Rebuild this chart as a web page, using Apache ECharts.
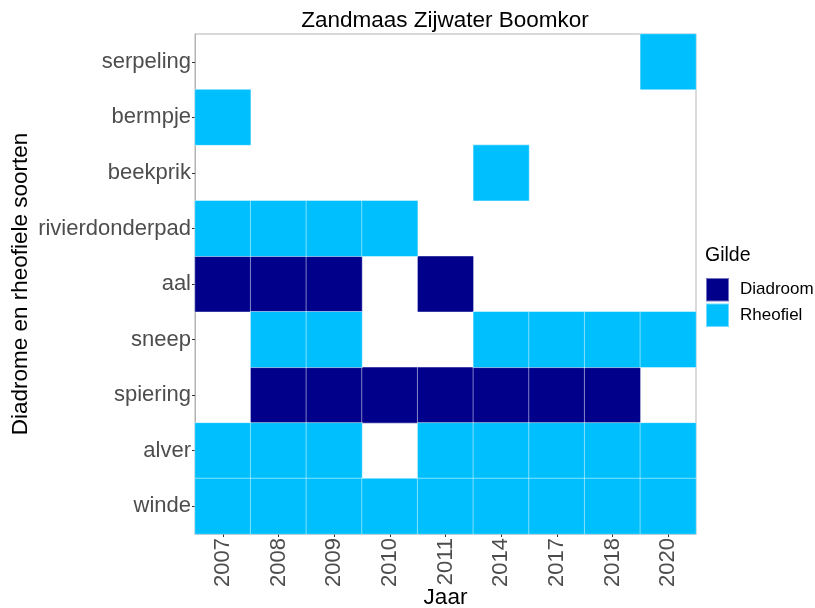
<!DOCTYPE html>
<html><head><meta charset="utf-8">
<script src="https://cdn.jsdelivr.net/npm/echarts@6/dist/echarts.min.js"></script>
<style>html,body{margin:0;padding:0;background:#fff}#c{width:815px;height:608px}</style>
</head><body><div id="c"></div>
<script>
const years = ['2007','2008','2009','2010','2011','2014','2017','2018','2020'];
const species = ['winde','alver','spiering','sneep','aal','rivierdonderpad','beekprik','bermpje','serpeling'];
const guilds = ['Diadroom','Rheofiel'];
const guildColors = ['#00008B','#00BFFF'];
// [species, year] presence per guild
const diadroomCells = [
  ['aal','2007'],['aal','2008'],['aal','2009'],['aal','2011'],
  ['spiering','2008'],['spiering','2009'],['spiering','2010'],['spiering','2011'],['spiering','2014'],['spiering','2017'],['spiering','2018']
];
const rheofielCells = [
  ['serpeling','2020'],
  ['bermpje','2007'],
  ['beekprik','2014'],
  ['rivierdonderpad','2007'],['rivierdonderpad','2008'],['rivierdonderpad','2009'],['rivierdonderpad','2010'],
  ['sneep','2008'],['sneep','2009'],['sneep','2014'],['sneep','2017'],['sneep','2018'],['sneep','2020'],
  ['alver','2007'],['alver','2008'],['alver','2009'],['alver','2011'],['alver','2014'],['alver','2017'],['alver','2018'],['alver','2020'],
  ['winde','2007'],['winde','2008'],['winde','2009'],['winde','2010'],['winde','2011'],['winde','2014'],['winde','2017'],['winde','2018'],['winde','2020']
];
const toData = cells => cells.map(c => [years.indexOf(c[1]), species.indexOf(c[0]), 1]);
const cellData = [toData(diadroomCells), toData(rheofielCells)];

const FF = 'Liberation Sans, Arial, sans-serif';
const chart = echarts.init(document.getElementById('c'), null, {renderer:'canvas'});
const txt = '#4d4d4d';
chart.setOption({
  animation:false,
  backgroundColor:'#fff',
  textStyle:{fontFamily:FF},
  title:{text:'Zandmaas Zijwater Boomkor', left:440, textAlign:'center', top:4,
    textStyle:{fontSize:22.5, fontWeight:'normal', color:'#000', fontFamily:FF}},
  grid:{left:195, top:34, width:501, height:500, show:true, borderColor:'#b3b3b3', borderWidth:1,
    backgroundColor:'#fff', containLabel:false, outerBoundsMode:'none'},
  xAxis:{type:'category', data:years, name:'Jaar', nameLocation:'middle', nameGap:52, nameMoveOverlap:false,
    nameTextStyle:{fontSize:22.5, color:'#000', fontFamily:FF},
    axisLine:{show:true, lineStyle:{color:'#b3b3b3'}},
    axisTick:{show:true, alignWithLabel:true, length:3, lineStyle:{color:'#333'}},
    axisLabel:{rotate:90, fontSize:22, color:txt, margin:4, fontFamily:FF},
    splitLine:{show:false}},
  yAxis:{type:'category', data:species, name:'Diadrome en rheofiele soorten', nameLocation:'middle', nameGap:163, nameMoveOverlap:false,
    nameTextStyle:{fontSize:22.5, color:'#000', fontFamily:FF},
    axisLine:{show:true, lineStyle:{color:'#b3b3b3'}},
    axisTick:{show:true, alignWithLabel:true, length:3, lineStyle:{color:'#333'}},
    axisLabel:{fontSize:22, color:txt, margin:4, fontFamily:FF},
    splitLine:{show:false}},
  legend:{orient:'vertical', left:705, top:277, padding:0, itemWidth:23, itemHeight:23.5, itemGap:0,
    data:guilds.map(g=>({name:g, icon:'rect'})),
    textStyle:{fontSize:17, color:'#000', padding:[0,0,0,6], fontFamily:FF},
    selectedMode:false},
  graphic:[{type:'text', left:705, top:246, style:{text:'Gilde', fontSize:19.5, fill:'#000', fontFamily:FF}}],
  series: guilds.map((g,i)=>({
    name:g, type:'heatmap', data:cellData[i],
    itemStyle:{color:guildColors[i], borderColor:'rgba(255,255,255,0.45)', borderWidth:1},
    emphasis:{disabled:true}
  }))
});
</script></body></html>
